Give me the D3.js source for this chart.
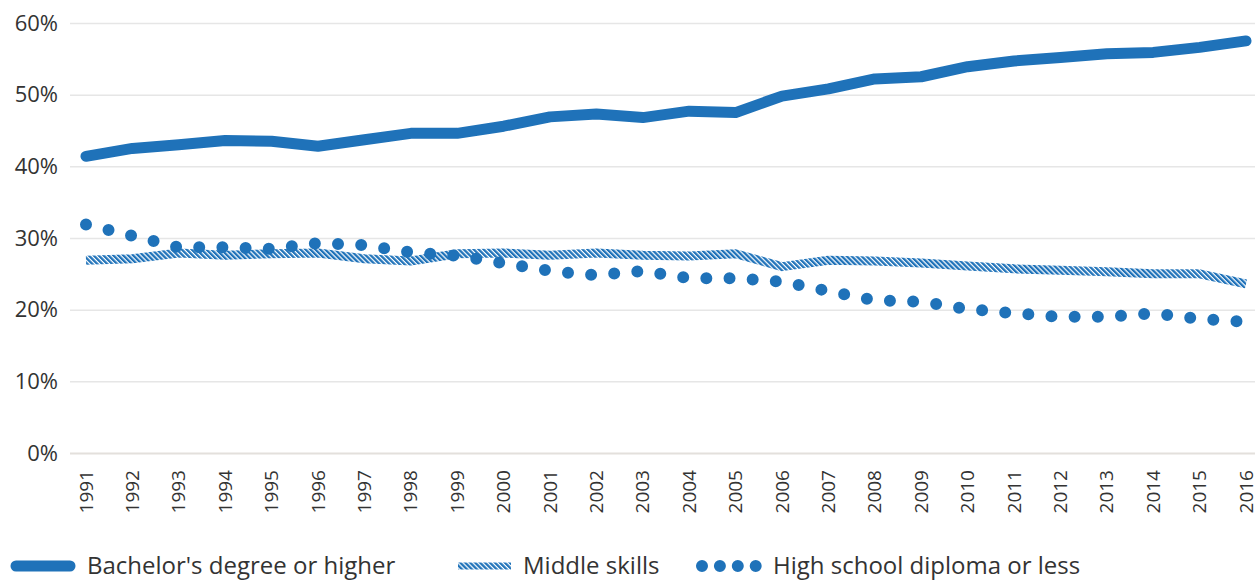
<!DOCTYPE html>
<meta charset="utf-8">
<style>
  body { margin: 0; background: #fff; }
  text { font-family: "Open Sans", Lato, sans-serif; fill: #333; }
  .grid line { stroke: #e6e6e6; stroke-width: 1.5px; }
  .grid path { stroke-width: 0; }
</style>
<body>
<script src="https://d3js.org/d3.v7.min.js"></script>
<script>
// chart values
var years = ["1991","1992","1993","1994","1995","1996","1997","1998","1999","2000",
             "2001","2002","2003","2004","2005","2006","2007","2008","2009","2010",
             "2011","2012","2013","2014","2015","2016"];
var bachelor = [41.4, 42.5, 43.0, 43.6, 43.5, 42.8, 43.7, 44.6, 44.6, 45.6,
                46.9, 47.3, 46.8, 47.7, 47.5, 49.8, 50.8, 52.2, 52.5, 53.9,
                54.7, 55.2, 55.7, 55.9, 56.6, 57.5];
var middle = [26.9, 27.1, 27.9, 27.6, 27.8, 27.9, 27.1, 26.8, 27.8, 27.9,
              27.6, 27.9, 27.6, 27.5, 27.8, 26.0, 26.9, 26.8, 26.5, 26.1,
              25.7, 25.5, 25.3, 25.0, 25.0, 23.6];
var highSchool = [31.9, 30.3, 28.7, 28.7, 28.5, 29.3, 29.0, 28.0, 27.5, 26.5,
                  25.4, 24.8, 25.4, 24.4, 24.4, 23.9, 22.6, 21.3, 21.1, 20.1,
                  19.5, 19.0, 19.0, 19.5, 18.7, 18.3];
var yTicks = [0, 10, 20, 30, 40, 50, 60];
var seriesNames = ["Bachelor's degree or higher", "Middle skills", "High school diploma or less"];

var blue = "#1f72b9";
var W = 1260, H = 581;
var plotLeft = 70, plotRight = 1255;

var svg = d3.select("body").append("svg")
    .attr("width", W)
    .attr("height", H);

// hatch for the middle skills band
var defs = svg.append("defs");
defs.append("pattern")
    .attr("id", "hatch")
    .attr("patternUnits", "userSpaceOnUse")
    .attr("width", 3.5)
    .attr("height", 3.5)
    .attr("patternTransform", "rotate(-45)")
  .append("rect")
    .attr("x", 0).attr("y", 0)
    .attr("width", 2.3).attr("height", 3.5)
    .attr("fill", blue);

var x = d3.scalePoint().domain(years).range([86, 1246]);
var y = d3.scaleLinear().domain([0, 60]).range([453, 23]);

// gridlines
svg.append("g")
    .attr("class", "grid")
    .attr("transform", "translate(" + plotLeft + ",0)")
    .call(d3.axisLeft(y).tickValues(yTicks).tickSize(-(plotRight - plotLeft)).tickFormat(""))
    .selectAll("line")
    .style("stroke", function(d) { return d === 0 ? "#e3e0dc" : "#e6e6e6"; })
    .style("stroke-width", function(d) { return d === 0 ? "2px" : "1.5px"; });

// y labels
svg.append("g").selectAll("text")
    .data(yTicks)
  .enter().append("text")
    .attr("x", 58)
    .attr("y", function(d) { return y(d); })
    .attr("dy", "0.35em")
    .attr("text-anchor", "end")
    .style("font-size", "22px")
    .text(function(d) { return d + "%"; });

// x labels, rotated
svg.append("g").selectAll("text")
    .data(years)
  .enter().append("text")
    .attr("transform", function(d) { return "translate(" + (x(d) + 6.5) + ",470) rotate(-90)"; })
    .attr("text-anchor", "end")
    .style("font-size", "19px")
    .text(function(d) { return d; });

var line = d3.line()
    .x(function(d, i) { return x(years[i]); })
    .y(function(d) { return y(d); });

// middle skills - hatched band
svg.append("path")
    .datum(middle)
    .attr("d", line)
    .attr("fill", "none")
    .attr("stroke", "url(#hatch)")
    .attr("stroke-width", 9)
    .attr("stroke-linejoin", "round");

// high school - dotted line
svg.append("path")
    .datum(highSchool)
    .attr("d", line)
    .attr("fill", "none")
    .attr("stroke", blue)
    .attr("stroke-width", 12)
    .attr("stroke-linecap", "round")
    .attr("stroke-dasharray", "0,23.2");

// bachelor - thick solid line
svg.append("path")
    .datum(bachelor)
    .attr("d", line)
    .attr("fill", "none")
    .attr("stroke", blue)
    .attr("stroke-width", 11)
    .attr("stroke-linejoin", "round")
    .attr("stroke-linecap", "round");

// legend
var ly = 566;
var legend = svg.append("g");
legend.append("line")
    .attr("x1", 16).attr("x2", 70).attr("y1", ly).attr("y2", ly)
    .attr("stroke", blue).attr("stroke-width", 11).attr("stroke-linecap", "round");
legend.append("text").attr("x", 87).attr("y", ly).attr("dy", "0.35em")
    .style("font-size", "24px").text(seriesNames[0]);

legend.append("line")
    .attr("x1", 458).attr("x2", 511).attr("y1", ly).attr("y2", ly)
    .attr("stroke", "url(#hatch)").attr("stroke-width", 7);
legend.append("text").attr("x", 523).attr("y", ly).attr("dy", "0.35em")
    .style("font-size", "24px").text(seriesNames[1]);

legend.append("line")
    .attr("x1", 702).attr("x2", 756).attr("y1", ly).attr("y2", ly)
    .attr("stroke", blue).attr("stroke-width", 12)
    .attr("stroke-linecap", "round").attr("stroke-dasharray", "0,17.9");
legend.append("text").attr("x", 773).attr("y", ly).attr("dy", "0.35em")
    .style("font-size", "24px").text(seriesNames[2]);
</script>
</body>
